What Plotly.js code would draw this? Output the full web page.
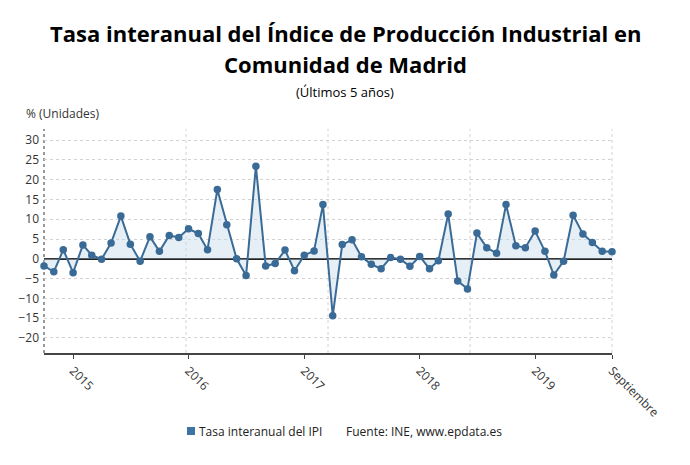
<!DOCTYPE html>
<html>
<head>
<meta charset="utf-8">
<script src="https://cdn.plot.ly/plotly-3.0.1.min.js"></script>
<style>html,body{margin:0;padding:0;background:#fff;}#chart{width:690px;height:465px;}</style>
</head>
<body>
<div id="chart"></div>
<script>
// Months (Oct 2014 - Sep 2019)
const months = [
  "2014-10-01","2014-11-01","2014-12-01",
  "2015-01-01","2015-02-01","2015-03-01","2015-04-01","2015-05-01","2015-06-01","2015-07-01","2015-08-01","2015-09-01","2015-10-01","2015-11-01","2015-12-01",
  "2016-01-01","2016-02-01","2016-03-01","2016-04-01","2016-05-01","2016-06-01","2016-07-01","2016-08-01","2016-09-01","2016-10-01","2016-11-01","2016-12-01",
  "2017-01-01","2017-02-01","2017-03-01","2017-04-01","2017-05-01","2017-06-01","2017-07-01","2017-08-01","2017-09-01","2017-10-01","2017-11-01","2017-12-01",
  "2018-01-01","2018-02-01","2018-03-01","2018-04-01","2018-05-01","2018-06-01","2018-07-01","2018-08-01","2018-09-01","2018-10-01","2018-11-01","2018-12-01",
  "2019-01-01","2019-02-01","2019-03-01","2019-04-01","2019-05-01","2019-06-01","2019-07-01","2019-08-01","2019-09-01"
];
// Tasa interanual del IPI (%)
const tasaIPI = [
  -1.8, -3.3, 2.3,
  -3.5, 3.5, 0.9, -0.1, 4.0, 10.8, 3.7, -0.6, 5.6, 1.9, 5.9, 5.4,
  7.6, 6.4, 2.3, 17.5, 8.6, 0.0, -4.2, 23.4, -1.8, -1.2, 2.2, -3.0,
  0.9, 2.0, 13.7, -14.4, 3.6, 4.8, 0.5, -1.4, -2.5, 0.3, -0.1, -1.9,
  0.6, -2.5, -0.5, 11.3, -5.6, -7.6, 6.5, 2.8, 1.4, 13.7, 3.3, 2.8,
  7.0, 1.9, -4.1, -0.6, 11.0, 6.3, 4.1, 1.9, 1.8
];
const tickDates = ["2015-01-01","2016-01-01","2017-01-01","2018-01-01","2019-01-01","2019-09-01"];
const tickLabels = ["2015","2016","2017","2018","2019","Septiembre"];
const yTicks = [-20,-15,-10,-5,0,5,10,15,20,25,30];
const titleLines = ["Tasa interanual del Índice de Producción Industrial en", "Comunidad de Madrid"];

const FONT = "Open Sans, sans-serif";
const BLUE = "#3a6b96";

const trace = {
  x: months, y: tasaIPI, type: "scatter", mode: "lines+markers",
  name: "Tasa interanual del IPI",
  fill: "tozeroy", fillcolor: "rgba(200,217,235,0.45)",
  line: {color: BLUE, width: 2},
  marker: {color: BLUE, size: 7.5},
  showlegend: false, cliponaxis: false
};

const L = 44, T = 129, W = 568, H = 224;
const px = v => (v - L) / W;
const py = v => (T + H - v) / H;

const vgrid = [0, 0.25, 0.5, 0.75, 1].map((p, i) => ({
  type: "line", xref: "paper", yref: "paper", x0: p, x1: p, y0: 0, y1: 1,
  line: {color: i === 0 ? "#333" : "#d2d2d2", width: 1, dash: "dot"}, layer: "below"
}));

const titleFont = {family: FONT, size: 22, weight: "bold", color: "#000"};

const layout = {
  width: 690, height: 465,
  margin: {l: L, r: 690 - L - W, t: T, b: 465 - T - H, pad: 0},
  paper_bgcolor: "#fff", plot_bgcolor: "#fff",
  font: {family: FONT, color: "#333"},
  xaxis: {
    type: "date", range: ["2014-10-01", "2019-09-01"],
    tickvals: tickDates, ticktext: tickLabels, tickangle: 45,
    showgrid: false, zeroline: false,
    showline: true, linecolor: "#444", linewidth: 2,
    ticks: "outside", ticklen: 4, tickcolor: "#444", tickwidth: 1,
    tickfont: {family: FONT, size: 12, color: "#333"}
  },
  yaxis: {
    range: [-23.8, 32.8], tickvals: yTicks,
    showgrid: true, gridcolor: "#d2d2d2", griddash: "dot", gridwidth: 1,
    zeroline: true, zerolinecolor: "#222", zerolinewidth: 1.5,
    showline: false, ticks: "", ticklabelstandoff: 4,
    tickfont: {family: FONT, size: 12, color: "#333"}
  },
  shapes: vgrid.concat([
    {type: "rect", xref: "paper", yref: "paper", x0: px(187), x1: px(195), y0: py(435), y1: py(427),
     fillcolor: "#3e74a3", line: {width: 0}}
  ]),
  annotations: [
    {text: titleLines[0], xref: "paper", yref: "paper", x: px(345), y: py(33), xanchor: "center", yanchor: "middle",
     showarrow: false, font: titleFont},
    {text: titleLines[1], xref: "paper", yref: "paper", x: px(345), y: py(64), xanchor: "center", yanchor: "middle",
     showarrow: false, font: titleFont},
    {text: "(Últimos 5 años)", xref: "paper", yref: "paper", x: px(345), y: py(92), xanchor: "center", yanchor: "middle",
     showarrow: false, font: {family: FONT, size: 13, color: "#000"}},
    {text: "% (Unidades)", xref: "paper", yref: "paper", x: px(24), y: py(114), xanchor: "left", yanchor: "middle",
     showarrow: false, font: {family: FONT, size: 12, color: "#333"}},
    {text: "Tasa interanual del IPI", xref: "paper", yref: "paper", x: px(197), y: py(431), xanchor: "left", yanchor: "middle",
     showarrow: false, font: {family: FONT, size: 12, color: "#222"}},
    {text: "Fuente: INE, www.epdata.es", xref: "paper", yref: "paper", x: px(344), y: py(431), xanchor: "left", yanchor: "middle",
     showarrow: false, font: {family: FONT, size: 12, color: "#222"}}
  ]
};

Plotly.newPlot("chart", [trace], layout, {displayModeBar: false, staticPlot: true});
</script>
</body>
</html>
